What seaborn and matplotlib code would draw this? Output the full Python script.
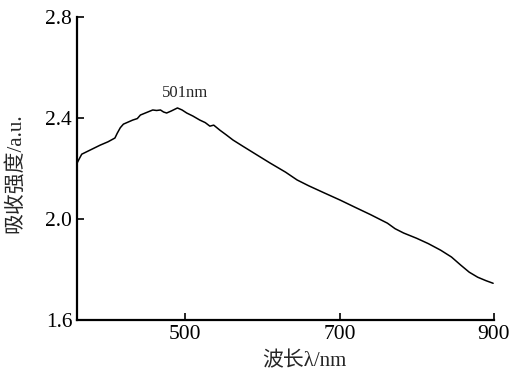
import numpy as np
import pandas as pd
import seaborn as sns
import matplotlib.pyplot as plt

# absorption spectrum
wavelength = [360, 363, 366, 372, 380, 390, 400, 409, 412, 416, 420, 426, 432, 438,
              442, 450, 458, 463, 468, 472, 476, 482, 490, 496, 502, 510, 519, 526,
              532, 537, 545, 553, 562, 575, 593, 610, 630, 645, 660, 680, 701, 720,
              740, 762, 772, 783, 800, 815, 831, 845, 857, 868, 879, 890, 899]
absorb = [2.222, 2.240, 2.257, 2.266, 2.278, 2.293, 2.306, 2.321, 2.340, 2.362, 2.376,
          2.384, 2.392, 2.398, 2.412, 2.422, 2.432, 2.430, 2.432, 2.424, 2.420, 2.428,
          2.440, 2.432, 2.420, 2.408, 2.392, 2.382, 2.368, 2.372, 2.352, 2.334, 2.313,
          2.288, 2.254, 2.222, 2.186, 2.155, 2.132, 2.104, 2.075, 2.047, 2.018, 1.984,
          1.962, 1.945, 1.924, 1.903, 1.877, 1.850, 1.818, 1.790, 1.770, 1.756, 1.746]

peak_x, peak_y = 500, 2.468

sns.set_style('ticks')
plt.rcParams['font.family'] = ['Liberation Serif', 'Noto Sans CJK SC', 'DejaVu Sans']
plt.rcParams['axes.unicode_minus'] = False

df = pd.DataFrame({'wl': wavelength, 'a': absorb})

fig = plt.figure(figsize=(5.21, 3.78), dpi=100)
ax = fig.add_axes([0.148, 0.153, 0.80, 0.802])
sns.lineplot(data=df, x='wl', y='a', color='black', linewidth=1.1, ax=ax)

ax.text(peak_x, peak_y, '501nm', ha='center', va='bottom', fontsize=12)

ax.set_xlim(360, 900)
ax.set_ylim(1.6, 2.8)
ax.set_xticks([500, 700, 900])
ax.set_yticks([1.6, 2.0, 2.4, 2.8])
ax.set_yticklabels(['1.6', '2.0', '2.4', '2.8'])
ax.tick_params(direction='in', length=5, width=1.2, labelsize=15.5, colors='black')
for s in ['top', 'right']:
    ax.spines[s].set_visible(False)
for s in ['left', 'bottom']:
    ax.spines[s].set_linewidth(1.6)
    ax.spines[s].set_color('black')
ax.set_xlabel('波长λ/nm', fontsize=15)
ax.set_ylabel('吸收强度/a.u.', fontsize=15)
ax.xaxis.set_label_coords(0.544, -0.105)
ax.yaxis.set_label_coords(-0.125, 0.485)

fig.savefig('out.png', dpi=100)
